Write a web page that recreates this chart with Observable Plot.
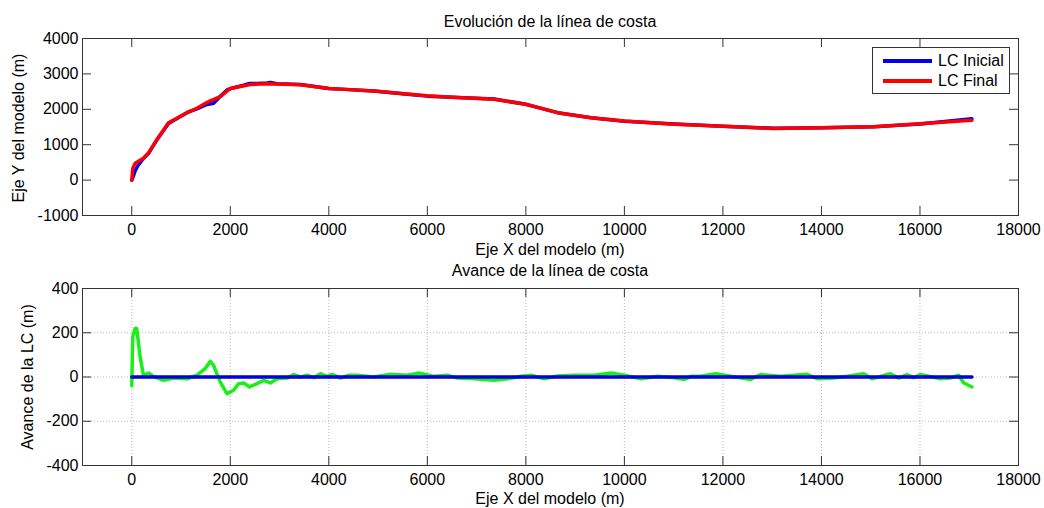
<!DOCTYPE html>
<html><head><meta charset="utf-8">
<script src="https://cdn.jsdelivr.net/npm/d3@7"></script>
<script src="https://cdn.jsdelivr.net/npm/@observablehq/plot@0.6"></script>
<style>
body{margin:0;background:#fff;font-family:"Liberation Sans",Arial,sans-serif;}
#wrap{position:relative;width:1044px;height:508px;overflow:hidden;}
.lbl{position:absolute;font-size:16px;color:#000;white-space:nowrap;transform:translate(-50%,-50%);}
.ylbl{position:absolute;font-size:16px;color:#000;white-space:nowrap;transform:translate(-50%,-50%) rotate(-90deg);}
.svgbox{position:absolute;left:0;}
#legend{position:absolute;left:872px;top:47px;width:136px;height:45px;border:1px solid #333;background:#fff;font-size:16px;}
#legend .row{position:absolute;left:10px;height:20px;display:flex;align-items:center;}
#legend .sw{width:49px;height:4px;margin-right:6px;}
</style></head>
<body>
<div id="wrap"></div>
<script>
// ---- data ----
const xTicks = [0, 2000, 4000, 6000, 8000, 10000, 12000, 14000, 16000, 18000];
const yTicksTop = [-1000, 0, 1000, 2000, 3000, 4000];
const yTicksBottom = [-400, -200, 0, 200, 400];

const initX = [0, 30, 68, 120, 237, 339, 508, 746, 1119, 1322, 1525, 1661, 1797, 1932, 2068, 2271, 2393, 2542, 2746, 2814, 2949, 3424, 4000, 4237, 4915, 5593, 6000, 6610, 7356, 8000, 8644, 9322, 10000, 11017, 12000, 13034, 14000, 15061, 16000, 17054];
const initY = [0, 100, 257, 400, 610, 750, 1130, 1600, 1905, 2010, 2135, 2170, 2370, 2545, 2610, 2680, 2730, 2730, 2745, 2760, 2720, 2700, 2590, 2570, 2520, 2425, 2372, 2335, 2290, 2140, 1905, 1760, 1660, 1585, 1520, 1462, 1480, 1505, 1585, 1735];

const finalX = [0, 20, 68, 237, 339, 508, 746, 1119, 1322, 1525, 1593, 1797, 2000, 2407, 2746, 3424, 4000, 4237, 4915, 5593, 6000, 6610, 7356, 8000, 8644, 9322, 10000, 11017, 12000, 13034, 14000, 15061, 16000, 17054];
const finalY = [0, 330, 476, 619, 770, 1143, 1619, 1905, 2030, 2190, 2240, 2360, 2590, 2700, 2725, 2695, 2590, 2570, 2520, 2430, 2381, 2333, 2286, 2143, 1905, 1762, 1667, 1580, 1524, 1460, 1476, 1510, 1590, 1690];

const avanceX = [0, 20, 68, 100, 170, 237, 339, 441, 644, 847, 1119, 1322, 1492, 1593, 1661, 1797, 1932, 2068, 2169, 2271, 2393, 2542, 2678, 2814, 2949, 3153, 3288, 3424, 3559, 3695, 3831, 3966, 4068, 4237, 4407, 4576, 4915, 5254, 5593, 5831, 6136, 6407, 6610, 6949, 7356, 7627, 7898, 8102, 8373, 8644, 8983, 9390, 9729, 10000, 10339, 10678, 11017, 11220, 11345, 11547, 11851, 12155, 12561, 12764, 13169, 13709, 13912, 14250, 14520, 14858, 15027, 15399, 15568, 15737, 15872, 16007, 16176, 16412, 16615, 16784, 16885, 17054];
const avanceY = [-38, 181, 219, 219, 91, 8, 18, 3, -15, -5, -8, 8, 38, 71, 53, -23, -75, -60, -30, -27, -45, -30, -15, -27, -8, -5, 11, 0, 8, -3, 15, 3, 12, -5, 8, 8, 0, 12, 8, 18, 3, 8, -5, -8, -15, -8, 3, 8, -8, 5, 8, 8, 18, 8, -8, 3, -3, -11, 3, 3, 15, 3, -11, 11, 3, 12, -8, -5, 3, 15, -8, 15, -5, 11, -3, 11, 3, -8, -5, 8, -26, -45];

const initial = initX.map((x, i) => ({x, y: initY[i]}));
const final = finalX.map((x, i) => ({x, y: finalY[i]}));
const avance = avanceX.map((x, i) => ({x, y: avanceY[i]}));
// reference line: initial coastline minus itself (zero advance)
const cero = initX.map((x, i) => ({x, y: initY[i] - initY[i]}));

const wrap = document.getElementById("wrap");
const W = 1044, ML = 82, MR = 26;
const fw = W - ML - MR;
const axisCol = "#333";
const fmt = d => String(d);
const baseStyle = {fontFamily: "'Liberation Sans', Arial, sans-serif", fontSize: "16px", color: "#000", background: "transparent", overflow: "visible"};

function panel(opts) {
  const {height, mt, mb, ydom, yticks, grid, lines} = opts;
  const fh = height - mt - mb;
  const marks = [];
  if (grid) {
    marks.push(Plot.gridX(xTicks, {stroke: "#b8b8b8", strokeOpacity: 1, strokeDasharray: "1,2"}));
    marks.push(Plot.gridY(yticks, {stroke: "#b8b8b8", strokeOpacity: 1, strokeDasharray: "1,2"}));
  }
  marks.push(...lines);
  // inward ticks on all four sides (MATLAB box)
  marks.push(Plot.ruleX(xTicks, {x: d => d, insetTop: fh - 9, stroke: axisCol}));
  marks.push(Plot.ruleX(xTicks, {x: d => d, insetBottom: fh - 9, stroke: axisCol}));
  marks.push(Plot.ruleY(yticks, {y: d => d, insetRight: fw - 9, stroke: axisCol}));
  marks.push(Plot.ruleY(yticks, {y: d => d, insetLeft: fw - 9, stroke: axisCol}));
  marks.push(Plot.frame({stroke: axisCol, strokeWidth: 1}));
  marks.push(Plot.axisX(xTicks, {anchor: "bottom", tickSize: 0, tickPadding: 8, label: null, fontSize: 16, tickFormat: fmt}));
  marks.push(Plot.axisY(yticks, {anchor: "left", tickSize: 0, tickPadding: 4, label: null, fontSize: 16, tickFormat: fmt}));
  return Plot.plot({
    width: W, height, marginLeft: ML, marginRight: MR, marginTop: mt, marginBottom: mb,
    x: {domain: [-1000, 18000]},
    y: {domain: ydom},
    style: baseStyle,
    marks
  });
}

const p1 = panel({
  height: 250, mt: 38, mb: 35, ydom: [-1000, 4000], yticks: yTicksTop, grid: false,
  lines: [
    Plot.line(initial, {x: "x", y: "y", stroke: "#0000ee", strokeWidth: 3.5}),
    Plot.line(final, {x: "x", y: "y", stroke: "#ff0000", strokeWidth: 3.5})
  ]
});
const p2 = panel({
  height: 258, mt: 38, mb: 43, ydom: [-400, 400], yticks: yTicksBottom, grid: true,
  lines: [
    Plot.line(avance, {x: "x", y: "y", stroke: "#18f018", strokeWidth: 3.5}),
    Plot.line(cero, {x: "x", y: "y", stroke: "#0000d8", strokeWidth: 3.5})
  ]
});

function place(node, top) {
  const d = document.createElement("div");
  d.className = "svgbox"; d.style.top = top + "px";
  d.appendChild(node); wrap.appendChild(d);
}
place(p1, 0);
place(p2, 250);

function label(text, x, y, cls) {
  const d = document.createElement("div");
  d.className = cls || "lbl"; d.textContent = text;
  d.style.left = x + "px"; d.style.top = y + "px";
  wrap.appendChild(d);
}
label("Evolución de la línea de costa", 550, 22);
label("Eje X del modelo (m)", 550, 250);
label("Avance de la línea de costa", 550, 271);
label("Eje X del modelo (m)", 550, 499);
label("Eje Y del modelo (m)", 19, 128, "ylbl");
label("Avance de la LC (m)", 28, 377, "ylbl");

// legend
const lg = document.createElement("div");
lg.id = "legend";
[["LC Inicial", "#0000ee", 3], ["LC Final", "#ff0000", 23]].forEach(([t, c, top]) => {
  const r = document.createElement("div");
  r.className = "row"; r.style.top = top + "px";
  const s = document.createElement("div"); s.className = "sw"; s.style.background = c;
  const tx = document.createElement("span"); tx.textContent = t;
  r.appendChild(s); r.appendChild(tx); lg.appendChild(r);
});
wrap.appendChild(lg);
</script>
</body></html>
